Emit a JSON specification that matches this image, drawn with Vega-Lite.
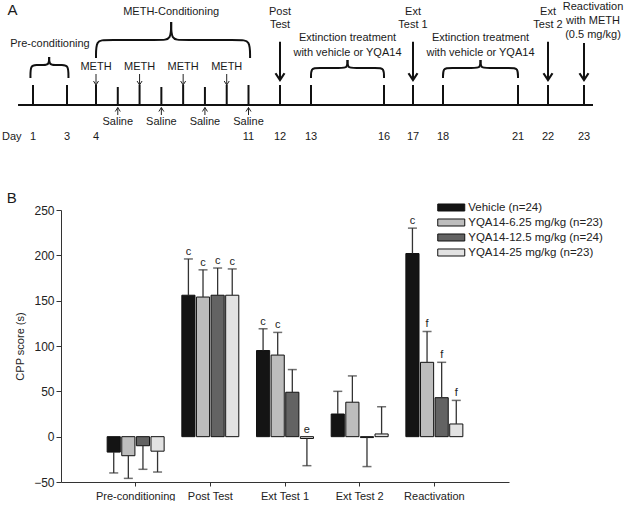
{
  "$schema": "https://vega.github.io/schema/vega-lite/v6.json",
  "padding": {"left": 1, "top": 0, "right": 0, "bottom": 0},
  "autosize": {"type": "pad"},
  "bounds": "flush",
  "spacing": 10,
  "resolve": {"legend": {"color": "independent", "shape": "independent"}},
  "config": {"font": "Liberation Sans", "view": {"stroke": null}, "axis": {"grid": false}},
  "datasets": {
    "baseline": [{"day": 0.12, "day2": 23.25, "v": 0}],
    "ticks": [
      {"day": 1, "v": 0, "v2": 2}, {"day": 3, "v": 0, "v2": 2}, {"day": 4, "v": 0, "v2": 2},
      {"day": 5, "v": 0, "v2": 1.8}, {"day": 6, "v": 0, "v2": 2}, {"day": 7, "v": 0, "v2": 1.8},
      {"day": 8, "v": 0, "v2": 2}, {"day": 9, "v": 0, "v2": 1.8}, {"day": 10, "v": 0, "v2": 2},
      {"day": 11, "v": 0, "v2": 2}, {"day": 12, "v": 0, "v2": 2}, {"day": 13, "v": 0, "v2": 2},
      {"day": 16, "v": 0, "v2": 2}, {"day": 17, "v": 0, "v2": 2}, {"day": 18, "v": 0, "v2": 2},
      {"day": 21, "v": 0, "v2": 2}, {"day": 22, "v": 0, "v2": 2}, {"day": 23, "v": 0, "v2": 2}
    ],
    "testArrows": [
      {"day": 12, "from": 6.33, "to": 2.5}, {"day": 17, "from": 6.33, "to": 2.5},
      {"day": 22, "from": 6.33, "to": 2.5}, {"day": 23, "from": 6.2, "to": 2.5}
    ],
    "injArrows": [
      {"day": 4, "from": 3.1, "to": 2.0, "dir": "down"}, {"day": 6, "from": 3.1, "to": 2.0, "dir": "down"},
      {"day": 8, "from": 3.1, "to": 2.0, "dir": "down"}, {"day": 10, "from": 3.1, "to": 2.0, "dir": "down"},
      {"day": 5, "from": -1.0, "to": -0.25, "dir": "up"}, {"day": 7, "from": -1.0, "to": -0.25, "dir": "up"},
      {"day": 9, "from": -1.0, "to": -0.25, "dir": "up"}, {"day": 11, "from": -1.0, "to": -0.25, "dir": "up"}
    ],
    "braces": [
      {"b": "preL", "i": 0, "day": 0.85, "v": 2.7}, {"b": "preL", "i": 1, "day": 0.85, "v": 4.0},
      {"b": "preL", "i": 2, "day": 1.2, "v": 4.0}, {"b": "preL", "i": 3, "day": 1.6, "v": 4.0},
      {"b": "preL", "i": 4, "day": 1.95, "v": 4.0}, {"b": "preL", "i": 5, "day": 1.95, "v": 4.8},
      {"b": "preR", "i": 0, "day": 3.05, "v": 2.7}, {"b": "preR", "i": 1, "day": 3.05, "v": 4.0},
      {"b": "preR", "i": 2, "day": 2.7, "v": 4.0}, {"b": "preR", "i": 3, "day": 2.3, "v": 4.0},
      {"b": "preR", "i": 4, "day": 1.95, "v": 4.0}, {"b": "preR", "i": 5, "day": 1.95, "v": 4.8},
      {"b": "condL", "i": 0, "day": 4.0, "v": 4.7}, {"b": "condL", "i": 1, "day": 4.0, "v": 6.5},
      {"b": "condL", "i": 2, "day": 4.45, "v": 6.5}, {"b": "condL", "i": 3, "day": 7.0, "v": 6.5},
      {"b": "condL", "i": 4, "day": 7.45, "v": 6.5}, {"b": "condL", "i": 5, "day": 7.45, "v": 8.3},
      {"b": "condR", "i": 0, "day": 11.05, "v": 4.7}, {"b": "condR", "i": 1, "day": 11.05, "v": 6.5},
      {"b": "condR", "i": 2, "day": 10.6, "v": 6.5}, {"b": "condR", "i": 3, "day": 7.9, "v": 6.5},
      {"b": "condR", "i": 4, "day": 7.45, "v": 6.5}, {"b": "condR", "i": 5, "day": 7.45, "v": 8.3},
      {"b": "ext1L", "i": 0, "day": 13, "v": 2.7}, {"b": "ext1L", "i": 1, "day": 13, "v": 3.7},
      {"b": "ext1L", "i": 2, "day": 13.25, "v": 3.7}, {"b": "ext1L", "i": 3, "day": 14.25, "v": 3.7},
      {"b": "ext1L", "i": 4, "day": 14.5, "v": 3.7}, {"b": "ext1L", "i": 5, "day": 14.5, "v": 4.5},
      {"b": "ext1R", "i": 0, "day": 16, "v": 2.7}, {"b": "ext1R", "i": 1, "day": 16, "v": 3.7},
      {"b": "ext1R", "i": 2, "day": 15.75, "v": 3.7}, {"b": "ext1R", "i": 3, "day": 14.75, "v": 3.7},
      {"b": "ext1R", "i": 4, "day": 14.5, "v": 3.7}, {"b": "ext1R", "i": 5, "day": 14.5, "v": 4.5},
      {"b": "ext2L", "i": 0, "day": 18, "v": 2.7}, {"b": "ext2L", "i": 1, "day": 18, "v": 3.7},
      {"b": "ext2L", "i": 2, "day": 18.25, "v": 3.7}, {"b": "ext2L", "i": 3, "day": 19.25, "v": 3.7},
      {"b": "ext2L", "i": 4, "day": 19.5, "v": 3.7}, {"b": "ext2L", "i": 5, "day": 19.5, "v": 4.5},
      {"b": "ext2R", "i": 0, "day": 21, "v": 2.7}, {"b": "ext2R", "i": 1, "day": 21, "v": 3.7},
      {"b": "ext2R", "i": 2, "day": 20.75, "v": 3.7}, {"b": "ext2R", "i": 3, "day": 19.75, "v": 3.7},
      {"b": "ext2R", "i": 4, "day": 19.5, "v": 3.7}, {"b": "ext2R", "i": 5, "day": 19.5, "v": 4.5}
    ],
    "labels": [
      {"t": "Pre-conditioning", "day": 2.0, "v": 6.1},
      {"t": "METH-Conditioning", "day": 7.45, "v": 9.3},
      {"t": "METH", "day": 4, "v": 3.83}, {"t": "METH", "day": 6, "v": 3.83},
      {"t": "METH", "day": 8, "v": 3.83}, {"t": "METH", "day": 10, "v": 3.83},
      {"t": "Saline", "day": 5, "v": -1.7}, {"t": "Saline", "day": 7, "v": -1.7},
      {"t": "Saline", "day": 9, "v": -1.7}, {"t": "Saline", "day": 11, "v": -1.7},
      {"t": "Post", "day": 12, "v": 9.3}, {"t": "Test", "day": 12, "v": 8.0},
      {"t": "Extinction treatment", "day": 14.5, "v": 6.7}, {"t": "with vehicle or YQA14", "day": 14.5, "v": 5.2},
      {"t": "Ext", "day": 17, "v": 9.3}, {"t": "Test 1", "day": 17, "v": 8.0},
      {"t": "Extinction treatment", "day": 19.5, "v": 6.7}, {"t": "with vehicle or YQA14", "day": 19.5, "v": 5.2},
      {"t": "Ext", "day": 22, "v": 9.3}, {"t": "Test 2", "day": 22, "v": 8.0},
      {"t": "Reactivation", "day": 23.25, "v": 9.8}, {"t": "with METH", "day": 23.25, "v": 8.4},
      {"t": "(0.5 mg/kg)", "day": 23.25, "v": 7.0},
      {"t": "Day", "day": -0.25, "v": -3.2},
      {"t": "1", "day": 1, "v": -3.2}, {"t": "3", "day": 3, "v": -3.2}, {"t": "4", "day": 4, "v": -3.2},
      {"t": "11", "day": 11, "v": -3.2}, {"t": "12", "day": 12, "v": -3.2}, {"t": "13", "day": 13, "v": -3.2},
      {"t": "16", "day": 16, "v": -3.2}, {"t": "17", "day": 17, "v": -3.2}, {"t": "18", "day": 18, "v": -3.2},
      {"t": "21", "day": 21, "v": -3.2}, {"t": "22", "day": 22, "v": -3.2}, {"t": "23", "day": 23, "v": -3.2}
    ],
    "panels": [
      {"t": "A", "day": -0.2, "v": 9.5},
      {"t": "B", "day": -0.25, "v": -9.3}
    ],
    "bars": [
      {"phase": "Pre-conditioning", "group": "Vehicle (n=24)", "mean": -17, "err": -40, "sig": ""},
      {"phase": "Pre-conditioning", "group": "YQA14-6.25 mg/kg (n=23)", "mean": -21, "err": -46, "sig": ""},
      {"phase": "Pre-conditioning", "group": "YQA14-12.5 mg/kg (n=24)", "mean": -10, "err": -36, "sig": ""},
      {"phase": "Pre-conditioning", "group": "YQA14-25 mg/kg (n=23)", "mean": -16, "err": -39, "sig": ""},
      {"phase": "Post Test", "group": "Vehicle (n=24)", "mean": 156, "err": 196, "sig": "c"},
      {"phase": "Post Test", "group": "YQA14-6.25 mg/kg (n=23)", "mean": 154, "err": 184, "sig": "c"},
      {"phase": "Post Test", "group": "YQA14-12.5 mg/kg (n=24)", "mean": 156, "err": 186, "sig": "c"},
      {"phase": "Post Test", "group": "YQA14-25 mg/kg (n=23)", "mean": 156, "err": 185, "sig": "c"},
      {"phase": "Ext Test 1", "group": "Vehicle (n=24)", "mean": 95, "err": 119, "sig": "c"},
      {"phase": "Ext Test 1", "group": "YQA14-6.25 mg/kg (n=23)", "mean": 90, "err": 115, "sig": "c"},
      {"phase": "Ext Test 1", "group": "YQA14-12.5 mg/kg (n=24)", "mean": 49, "err": 74, "sig": ""},
      {"phase": "Ext Test 1", "group": "YQA14-25 mg/kg (n=23)", "mean": -2, "err": -32, "sig": "e"},
      {"phase": "Ext Test 2", "group": "Vehicle (n=24)", "mean": 25, "err": 50, "sig": ""},
      {"phase": "Ext Test 2", "group": "YQA14-6.25 mg/kg (n=23)", "mean": 38, "err": 67, "sig": ""},
      {"phase": "Ext Test 2", "group": "YQA14-12.5 mg/kg (n=24)", "mean": -1, "err": -33, "sig": ""},
      {"phase": "Ext Test 2", "group": "YQA14-25 mg/kg (n=23)", "mean": 3, "err": 33, "sig": ""},
      {"phase": "Reactivation", "group": "Vehicle (n=24)", "mean": 202, "err": 230, "sig": "c"},
      {"phase": "Reactivation", "group": "YQA14-6.25 mg/kg (n=23)", "mean": 82, "err": 116, "sig": "f"},
      {"phase": "Reactivation", "group": "YQA14-12.5 mg/kg (n=24)", "mean": 43, "err": 82, "sig": "f"},
      {"phase": "Reactivation", "group": "YQA14-25 mg/kg (n=23)", "mean": 14, "err": 40, "sig": "f"}
    ]
  },
  "vconcat": [
    {
      "width": 564,
      "height": 200,
      "encoding": {
        "x": {"field": "day", "type": "quantitative", "axis": null,
              "scale": {"domain": [1, 3, 4, 11, 12, 13, 16, 17, 18, 21, 22, 23],
                        "range": [-28, 6, 35, 187.5, 219, 250, 323, 352, 382, 457, 487, 523],
                        "nice": false, "zero": false}},
        "y": {"field": "v", "type": "quantitative", "axis": null,
              "scale": {"domain": [-9.5, 10.5], "nice": false, "zero": false}}
      },
      "layer": [
        {"data": {"name": "baseline"}, "mark": {"type": "rule", "strokeWidth": 2, "color": "#111"},
         "encoding": {"x2": {"field": "day2"}}},
        {"data": {"name": "ticks"}, "mark": {"type": "rule", "strokeWidth": 2, "color": "#111"},
         "encoding": {"y2": {"field": "v2"}}},
        {"data": {"name": "testArrows"}, "mark": {"type": "rule", "strokeWidth": 2, "color": "#111"},
         "encoding": {"y": {"field": "from", "type": "quantitative"}, "y2": {"field": "to"}}},
        {"data": {"name": "testArrows"},
         "mark": {"type": "point", "shape": "M-1,-1.5L0,0L1,-1.5", "filled": false, "size": 81, "strokeWidth": 2.2, "color": "#111", "opacity": 1},
         "encoding": {"y": {"field": "to", "type": "quantitative"}}},
        {"data": {"name": "injArrows"}, "mark": {"type": "rule", "strokeWidth": 1, "color": "#222"},
         "encoding": {"y": {"field": "from", "type": "quantitative"}, "y2": {"field": "to"}}},
        {"data": {"name": "injArrows"},
         "mark": {"type": "point", "filled": false, "size": 25, "strokeWidth": 1, "color": "#222", "opacity": 1},
         "encoding": {"y": {"field": "to", "type": "quantitative"},
                      "shape": {"field": "dir", "type": "nominal", "legend": null,
                                "scale": {"domain": ["down", "up"], "range": ["M-1,-1.6L0,0L1,-1.6", "M-1,1.6L0,0L1,1.6"]}}}},
        {"data": {"name": "braces"}, "mark": {"type": "line", "interpolate": "basis", "strokeWidth": 2, "color": "#111"},
         "encoding": {"detail": {"field": "b"}, "order": {"field": "i", "type": "quantitative"}}},
        {"data": {"name": "labels"}, "mark": {"type": "text", "fontSize": 11, "color": "#1a1a1a", "baseline": "middle", "align": "center"},
         "encoding": {"text": {"field": "t"}}},
        {"data": {"name": "panels"}, "mark": {"type": "text", "fontSize": 15, "color": "#1a1a1a", "baseline": "middle", "align": "center"},
         "encoding": {"text": {"field": "t"}}}
      ]
    },
    {
      "width": 448,
      "height": 272,
      "data": {"name": "bars"},
      "transform": [{"calculate": "datum.mean > 0 ? datum.err : 0", "as": "labelY"}],
      "encoding": {
        "x": {"field": "phase", "type": "nominal",
              "sort": ["Pre-conditioning", "Post Test", "Ext Test 1", "Ext Test 2", "Reactivation"],
              "scale": {"paddingInner": 0.237, "paddingOuter": 0.618},
              "axis": {"title": null, "labelAngle": 0, "labelFontSize": 11, "tickSize": 4, "labelPadding": 4,
                       "domainColor": "#333", "tickColor": "#333", "labelColor": "#222"}},
        "xOffset": {"field": "group", "type": "nominal",
                    "sort": ["Vehicle (n=24)", "YQA14-6.25 mg/kg (n=23)", "YQA14-12.5 mg/kg (n=24)", "YQA14-25 mg/kg (n=23)"],
                    "scale": {"paddingInner": 0.1}}
      },
      "layer": [
        {"mark": {"type": "bar", "stroke": "#111", "strokeWidth": 1},
         "encoding": {
           "y": {"field": "mean", "type": "quantitative", "title": "CPP score (s)",
                 "scale": {"domain": [-50, 250], "nice": false},
                 "axis": {"values": [-50, 0, 50, 100, 150, 200, 250], "labelFontSize": 12, "titleFontSize": 11,
                          "titleFontWeight": "normal", "tickSize": 5, "labelPadding": 2, "titlePadding": 8,
                          "domainColor": "#333", "tickColor": "#333", "labelColor": "#222", "titleColor": "#222"}},
           "color": {"field": "group", "type": "nominal",
                     "scale": {"domain": ["Vehicle (n=24)", "YQA14-6.25 mg/kg (n=23)", "YQA14-12.5 mg/kg (n=24)", "YQA14-25 mg/kg (n=23)"],
                               "range": ["#141414", "#bdbdbd", "#636363", "#e2e2e2"]},
                     "legend": {"title": null, "orient": "none", "legendX": 382.75, "legendY": -10,
                                "symbolType": "M-2,-0.52H2V0.52H-2Z", "symbolSize": 182.25,
                                "symbolStrokeColor": "#111", "symbolStrokeWidth": 1,
                                "labelFontSize": 11.5, "labelColor": "#222", "labelOffset": 9.5, "rowPadding": 1}}
         }},
        {"mark": {"type": "rule", "color": "#333", "strokeWidth": 1}, "encoding": {"y": {"datum": 0, "type": "quantitative"}}},
        {"mark": {"type": "rule", "color": "#333", "strokeWidth": 1.3},
         "encoding": {"y": {"field": "mean", "type": "quantitative"}, "y2": {"field": "err"}}},
        {"mark": {"type": "tick", "orient": "horizontal", "size": 9, "thickness": 1.5, "color": "#333"},
         "encoding": {"y": {"field": "err", "type": "quantitative"}}},
        {"transform": [{"filter": "datum.sig != ''"}],
         "mark": {"type": "text", "fontSize": 11, "color": "#222", "baseline": "alphabetic", "dy": -4},
         "encoding": {"y": {"field": "labelY", "type": "quantitative"}, "text": {"field": "sig"}}}
      ]
    }
  ]
}
